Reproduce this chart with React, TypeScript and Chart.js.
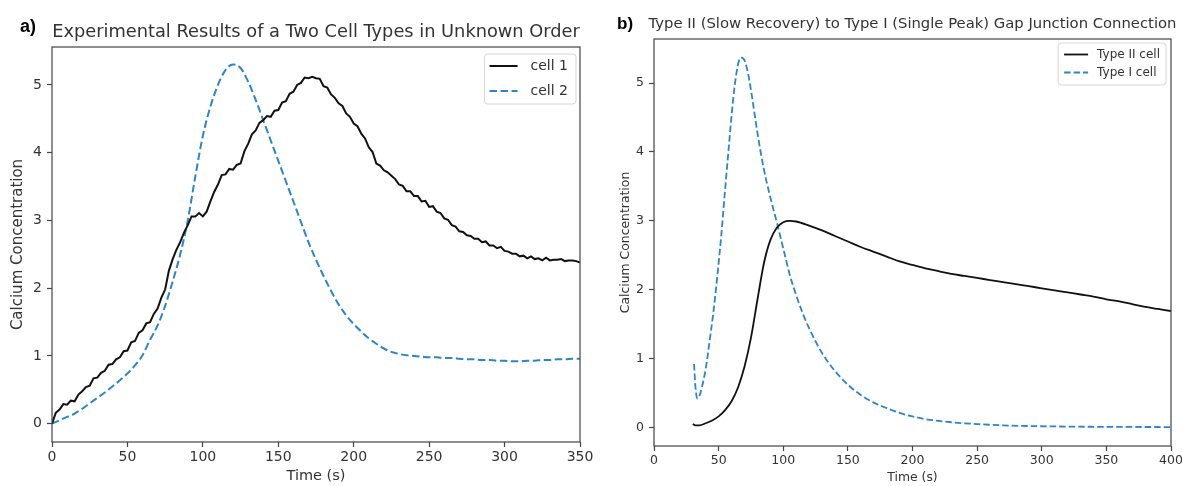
import React, { useEffect, useRef } from 'react';
import { Chart, registerables } from 'chart.js';

Chart.register(...registerables);

const FONT = "'DejaVu Sans', sans-serif";
const TEXT = '#333333';
const AXIS = '#444444';
const BLUE = '#2b86c9';

// ---------- Panel a ----------
const aTitle = 'Experimental Results of a Two Cell Types in Unknown Order';
const aCell1Label = 'cell 1';
const aCell2Label = 'cell 2';
const aTime1 = [
  0, 2.5, 5, 7.5, 10, 12.5, 15, 17.5, 20, 22.5,
  25, 27.5, 30, 32.5, 35, 37.5, 40, 42.5, 45, 47.5,
  50, 52.5, 55, 57.5, 60, 62.5, 65, 67.5, 70, 72.5,
  75, 77.5, 80, 82.5, 85, 87.5, 90, 92.5, 95, 97.5,
  100, 102.5, 105, 107.5, 110, 112.5, 115, 117.5, 120, 122.5,
  125, 127.5, 130, 132.5, 135, 137.5, 140, 142.5, 145, 147.5,
  150, 152.5, 155, 157.5, 160, 162.5, 165, 167.5, 170, 172.5,
  175, 177.5, 180, 182.5, 185, 187.5, 190, 192.5, 195, 197.5,
  200, 202.5, 205, 207.5, 210, 212.5, 215, 217.5, 220, 222.5,
  225, 227.5, 230, 232.5, 235, 237.5, 240, 242.5, 245, 247.5,
  250, 252.5, 255, 257.5, 260, 262.5, 265, 267.5, 270, 272.5,
  275, 277.5, 280, 282.5, 285, 287.5, 290, 292.5, 295, 297.5,
  300, 302.5, 305, 307.5, 310, 312.5, 315, 317.5, 320, 322.5,
  325, 327.5, 330, 332.5, 335, 337.5, 340, 342.5, 345, 347.5,
  350,
];
const aCell1 = [
  0, 0.16, 0.21, 0.29, 0.28, 0.34, 0.33, 0.43, 0.48, 0.54,
  0.56, 0.67, 0.68, 0.75, 0.78, 0.87, 0.88, 0.95, 0.98, 1.07,
  1.08, 1.2, 1.22, 1.34, 1.38, 1.48, 1.5, 1.62, 1.7, 1.86,
  1.98, 2.26, 2.43, 2.57, 2.68, 2.82, 2.93, 3.06, 3.06, 3.11,
  3.06, 3.13, 3.28, 3.42, 3.53, 3.67, 3.68, 3.76, 3.75, 3.82,
  3.84, 4.02, 4.13, 4.27, 4.33, 4.44, 4.48, 4.54, 4.53, 4.62,
  4.63, 4.74, 4.76, 4.87, 4.9, 5.0, 5.03, 5.11, 5.1, 5.12,
  5.1, 5.09, 4.98, 4.96, 4.86, 4.81, 4.73, 4.69, 4.58, 4.53,
  4.43, 4.39, 4.28, 4.21, 4.08, 4.01, 3.84, 3.81, 3.74, 3.71,
  3.66, 3.61, 3.53, 3.51, 3.43, 3.43, 3.36, 3.36, 3.28, 3.29,
  3.2, 3.21, 3.13, 3.11, 3.03, 3.01, 2.93, 2.91, 2.84, 2.83,
  2.78, 2.77, 2.73, 2.73, 2.68, 2.69, 2.63, 2.63, 2.59, 2.61,
  2.55, 2.54, 2.51, 2.51, 2.47, 2.48, 2.44, 2.47, 2.43, 2.44,
  2.41, 2.45, 2.41, 2.42, 2.42, 2.43, 2.4, 2.41, 2.41, 2.4,
  2.38,
];
const aTime2 = [
  0, 5, 10, 15, 20, 25, 30, 35, 40, 45,
  50, 55, 60, 65, 70, 75, 80, 85, 90, 95,
  100, 105, 110, 115, 120, 125, 130, 135, 140, 145,
  150, 155, 160, 165, 170, 175, 180, 185, 190, 195,
  200, 205, 210, 215, 220, 225, 230, 235, 240, 245,
  250, 255, 260, 265, 270, 275, 280, 285, 290, 295,
  300, 305, 310, 315, 320, 325, 330, 335, 340, 345,
  350,
];
const aCell2 = [
  0, 0.05, 0.1, 0.15, 0.22, 0.3, 0.38, 0.46, 0.55, 0.64,
  0.74, 0.86, 1.01, 1.24, 1.45, 1.74, 2.1, 2.5, 3.0, 3.65,
  4.25, 4.68, 5.0, 5.22, 5.3, 5.25, 5.05, 4.78, 4.48, 4.18,
  3.88, 3.58, 3.28, 2.98, 2.68, 2.42, 2.18, 1.96, 1.76, 1.6,
  1.47, 1.36, 1.26, 1.18, 1.11, 1.06, 1.03, 1.01, 1.0, 0.99,
  0.98, 0.98, 0.97, 0.97, 0.96, 0.95, 0.95, 0.94, 0.94, 0.93,
  0.93, 0.92, 0.92, 0.93, 0.93, 0.94, 0.94, 0.95, 0.95, 0.96,
  0.96,
];
const aXTicks = [0, 50, 100, 150, 200, 250, 300, 350];
const aYTicks = [0, 1, 2, 3, 4, 5];

// ---------- Panel b ----------
const bTitle = 'Type II (Slow Recovery) to Type I (Single Peak) Gap Junction Connection';
const bTypeIILabel = 'Type II cell';
const bTypeILabel = 'Type I cell';
const bTimeII = [
  30, 32, 35, 40, 45, 50, 55, 60, 65, 70,
  75, 80, 85, 90, 95, 100, 105, 110, 120, 130,
  140, 150, 160, 170, 180, 190, 200, 210, 220, 230,
  240, 250, 260, 270, 280, 290, 300, 310, 320, 330,
  340, 350, 360, 370, 380, 390, 400,
];
const bTypeII = [
  0.05, 0.03, 0.03, 0.06, 0.1, 0.16, 0.25, 0.38, 0.58, 0.88,
  1.3, 1.85, 2.38, 2.72, 2.9, 2.98, 3.0, 2.99, 2.93, 2.86,
  2.78, 2.7, 2.62, 2.55, 2.48, 2.41, 2.36, 2.31, 2.27, 2.23,
  2.2, 2.17, 2.14, 2.11, 2.08, 2.05, 2.02, 1.99, 1.96, 1.93,
  1.9, 1.86, 1.83, 1.79, 1.75, 1.72, 1.69,
];
const bTimeI = [
  31, 32, 33.5, 35, 37, 40, 43, 46, 49, 52,
  55, 58, 61, 64, 67, 70, 73, 76, 80, 85,
  90, 95, 100, 105, 110, 115, 120, 130, 140, 150,
  160, 170, 180, 190, 200, 210, 220, 230, 240, 250,
  270, 290, 320, 350, 400,
];
const bTypeI = [
  0.92, 0.6, 0.42, 0.45, 0.58, 0.85, 1.25, 1.68, 2.2, 2.78,
  3.45, 4.1, 4.72, 5.17, 5.37, 5.33, 5.12, 4.78, 4.28, 3.75,
  3.34, 2.98, 2.6, 2.22, 1.92, 1.66, 1.44, 1.08, 0.82, 0.62,
  0.47, 0.36, 0.28, 0.21, 0.16, 0.12, 0.095, 0.075, 0.06, 0.048,
  0.03, 0.02, 0.012, 0.008, 0.005,
];
const bXTicks = [0, 50, 100, 150, 200, 250, 300, 350, 400];
const bYTicks = [0, 1, 2, 3, 4, 5];

const xLabel = 'Time (s)';
const yLabel = 'Calcium Concentration';

const toPoints = (xs: number[], ys: number[]) => xs.map((x, i) => ({ x, y: ys[i] }));

const framePlugin = {
  id: 'frame',
  afterDatasetsDraw(chart: any) {
    const { ctx, chartArea: a } = chart;
    ctx.save();
    ctx.strokeStyle = AXIS;
    ctx.lineWidth = 1.2;
    ctx.strokeRect(a.left, a.top, a.right - a.left, a.bottom - a.top);
    ctx.restore();
  },
};

const topTitlePlugin = {
  id: 'topTitle',
  afterDraw(chart: any, _args: any, opts: any) {
    if (!opts || !opts.text) return;
    const { ctx, chartArea: a } = chart;
    ctx.save();
    ctx.font = `${opts.fontSize}px ${FONT}`;
    ctx.fillStyle = TEXT;
    ctx.textAlign = 'center';
    ctx.textBaseline = 'middle';
    ctx.fillText(opts.text, (a.left + a.right) / 2 + (opts.dx || 0), opts.y);
    ctx.restore();
  },
};

const legendPlugin = {
  id: 'boxLegend',
  afterDraw(chart: any, _args: any, opts: any) {
    if (!opts || !opts.items) return;
    const { ctx, chartArea: a } = chart;
    ctx.save();
    ctx.font = `${opts.fontSize}px ${FONT}`;
    const tw = Math.max(...opts.items.map((it: any) => ctx.measureText(it.text).width));
    const right = a.right - opts.right;
    const top = a.top + opts.top;
    const width = opts.padL + opts.handle + opts.textGap + tw + opts.padR;
    const left = right - width;
    const height = opts.firstRow + opts.rowGap * (opts.items.length - 1) + opts.lastPad;
    const r = 3;
    ctx.beginPath();
    ctx.moveTo(left + r, top);
    ctx.lineTo(right - r, top);
    ctx.quadraticCurveTo(right, top, right, top + r);
    ctx.lineTo(right, top + height - r);
    ctx.quadraticCurveTo(right, top + height, right - r, top + height);
    ctx.lineTo(left + r, top + height);
    ctx.quadraticCurveTo(left, top + height, left, top + height - r);
    ctx.lineTo(left, top + r);
    ctx.quadraticCurveTo(left, top, left + r, top);
    ctx.closePath();
    ctx.fillStyle = 'rgba(255,255,255,0.8)';
    ctx.fill();
    ctx.strokeStyle = '#d6d6d6';
    ctx.lineWidth = 1;
    ctx.stroke();
    opts.items.forEach((it: any, i: number) => {
      const y = top + opts.firstRow + i * opts.rowGap;
      ctx.beginPath();
      ctx.setLineDash(it.dash || []);
      ctx.strokeStyle = it.color;
      ctx.lineWidth = it.width;
      ctx.moveTo(left + opts.padL, y);
      ctx.lineTo(left + opts.padL + opts.handle, y);
      ctx.stroke();
      ctx.setLineDash([]);
      ctx.fillStyle = TEXT;
      ctx.textBaseline = 'middle';
      ctx.textAlign = 'left';
      ctx.fillText(it.text, left + opts.padL + opts.handle + opts.textGap, y);
    });
    ctx.restore();
  },
};

function axisCommon(ticksArr: number[], fontSize: number, pad: number) {
  return {
    afterBuildTicks: (s: any) => {
      s.ticks = ticksArr.map((v) => ({ value: v }));
    },
    ticks: {
      font: { size: fontSize, family: FONT },
      color: TEXT,
      padding: pad,
      autoSkip: false,
      maxRotation: 0,
    },
    grid: {
      drawOnChartArea: false,
      drawTicks: true,
      tickLength: 5,
      color: AXIS,
      tickColor: AXIS,
      tickWidth: 1.2,
    },
    border: { display: false },
  };
}

function makeA(canvas: HTMLCanvasElement) {
  return new Chart(canvas, {
    type: 'line',
    data: {
      datasets: [
        {
          label: aCell1Label,
          data: toPoints(aTime1, aCell1),
          borderColor: '#111111',
          borderWidth: 2,
          pointRadius: 0,
          tension: 0,
          fill: false,
        },
        {
          label: aCell2Label,
          data: toPoints(aTime2, aCell2),
          borderColor: BLUE,
          borderWidth: 2,
          borderDash: [7.5, 3.5],
          pointRadius: 0,
          cubicInterpolationMode: 'monotone',
          fill: false,
        },
      ],
    },
    options: {
      responsive: false,
      animation: false,
      devicePixelRatio: 1,
      events: [],
      layout: { padding: { left: 0, right: 20, top: 47, bottom: 0 } },
      plugins: {
        legend: { display: false },
        tooltip: { enabled: false },
        title: { display: false },
        topTitle: { text: aTitle, fontSize: 17.8, y: 32 },
        boxLegend: {
          fontSize: 14,
          right: 4,
          top: 7,
          padL: 5,
          handle: 28,
          textGap: 13,
          padR: 8,
          firstRow: 12,
          rowGap: 25,
          lastPad: 13,
          items: [
            { text: aCell1Label, color: '#111111', width: 2 },
            { text: aCell2Label, color: BLUE, width: 2, dash: [7.5, 3.5] },
          ],
        },
      } as any,
      scales: {
        x: {
          type: 'linear',
          min: 0,
          max: 350,
          ...axisCommon(aXTicks, 14, 2),
          afterFit: (s: any) => {
            s.height = 44;
            s.paddingLeft = 0;
            s.paddingRight = 0;
          },
          title: {
            display: true,
            text: xLabel,
            color: TEXT,
            font: { size: 14.5, family: FONT },
            padding: { top: 0, bottom: 1.5 },
          },
        },
        y: {
          type: 'linear',
          min: -0.27,
          max: 5.56,
          ...axisCommon(aYTicks, 14, 5),
          afterFit: (s: any) => {
            s.width = 52;
          },
          title: {
            display: true,
            text: yLabel,
            color: TEXT,
            font: { size: 15, family: FONT },
            padding: { top: 9, bottom: 0 },
          },
        },
      } as any,
    },
    plugins: [framePlugin, legendPlugin, topTitlePlugin],
  } as any);
}

function makeB(canvas: HTMLCanvasElement) {
  return new Chart(canvas, {
    type: 'line',
    data: {
      datasets: [
        {
          label: bTypeIILabel,
          data: toPoints(bTimeII, bTypeII),
          borderColor: '#111111',
          borderWidth: 1.8,
          pointRadius: 0,
          cubicInterpolationMode: 'monotone',
          fill: false,
        },
        {
          label: bTypeILabel,
          data: toPoints(bTimeI, bTypeI),
          borderColor: BLUE,
          borderWidth: 1.8,
          borderDash: [6.5, 3],
          pointRadius: 0,
          cubicInterpolationMode: 'monotone',
          fill: false,
        },
      ],
    },
    options: {
      responsive: false,
      animation: false,
      devicePixelRatio: 1,
      events: [],
      layout: { padding: { left: 0, right: 11, top: 39, bottom: 0 } },
      plugins: {
        legend: { display: false },
        tooltip: { enabled: false },
        title: { display: false },
        topTitle: { text: bTitle, fontSize: 14.8, y: 24, dx: 0 },
        boxLegend: {
          fontSize: 12,
          right: 5,
          top: 4,
          padL: 6,
          handle: 24,
          textGap: 9,
          padR: 6,
          firstRow: 11.5,
          rowGap: 18,
          lastPad: 12.5,
          items: [
            { text: bTypeIILabel, color: '#111111', width: 1.8 },
            { text: bTypeILabel, color: BLUE, width: 1.8, dash: [6.5, 3] },
          ],
        },
      } as any,
      scales: {
        x: {
          type: 'linear',
          min: 0,
          max: 400,
          ...axisCommon(bXTicks, 12.5, 2),
          afterFit: (s: any) => {
            s.height = 40;
            s.paddingLeft = 0;
            s.paddingRight = 0;
          },
          title: {
            display: true,
            text: xLabel,
            color: TEXT,
            font: { size: 12.4, family: FONT },
            padding: { top: 0, bottom: 1 },
          },
        },
        y: {
          type: 'linear',
          min: -0.27,
          max: 5.64,
          ...axisCommon(bYTicks, 12.5, 5),
          afterFit: (s: any) => {
            s.width = 54;
          },
          title: {
            display: true,
            text: yLabel,
            color: TEXT,
            font: { size: 12.4, family: FONT },
            padding: { top: 18.6, bottom: 0 },
          },
        },
      } as any,
    },
    plugins: [framePlugin, legendPlugin, topTitlePlugin],
  } as any);
}

export default function App() {
  const refA = useRef<HTMLCanvasElement>(null);
  const refB = useRef<HTMLCanvasElement>(null);

  useEffect(() => {
    if (!refA.current || !refB.current) return;
    const ca = makeA(refA.current);
    const cb = makeB(refB.current);
    return () => {
      ca.destroy();
      cb.destroy();
    };
  }, []);

  return (
    <div
      style={{
        position: 'absolute',
        left: 0,
        top: 0,
        width: 1182,
        height: 486,
        background: '#ffffff',
        overflow: 'hidden',
      }}
    >
      <canvas
        ref={refA}
        width={600}
        height={486}
        style={{ position: 'absolute', left: 0, top: 0, width: 600, height: 486 }}
      />
      <canvas
        ref={refB}
        width={582}
        height={486}
        style={{ position: 'absolute', left: 600, top: 0, width: 582, height: 486 }}
      />
      <div
        style={{
          position: 'absolute',
          left: 20,
          top: 16,
          font: "bold 18px 'Liberation Sans', sans-serif",
          color: '#000',
          lineHeight: '20px',
        }}
      >
        a)
      </div>
      <div
        style={{
          position: 'absolute',
          left: 617,
          top: 14,
          font: "bold 17px 'Liberation Sans', sans-serif",
          color: '#000',
          lineHeight: '20px',
        }}
      >
        b)
      </div>
    </div>
  );
}
